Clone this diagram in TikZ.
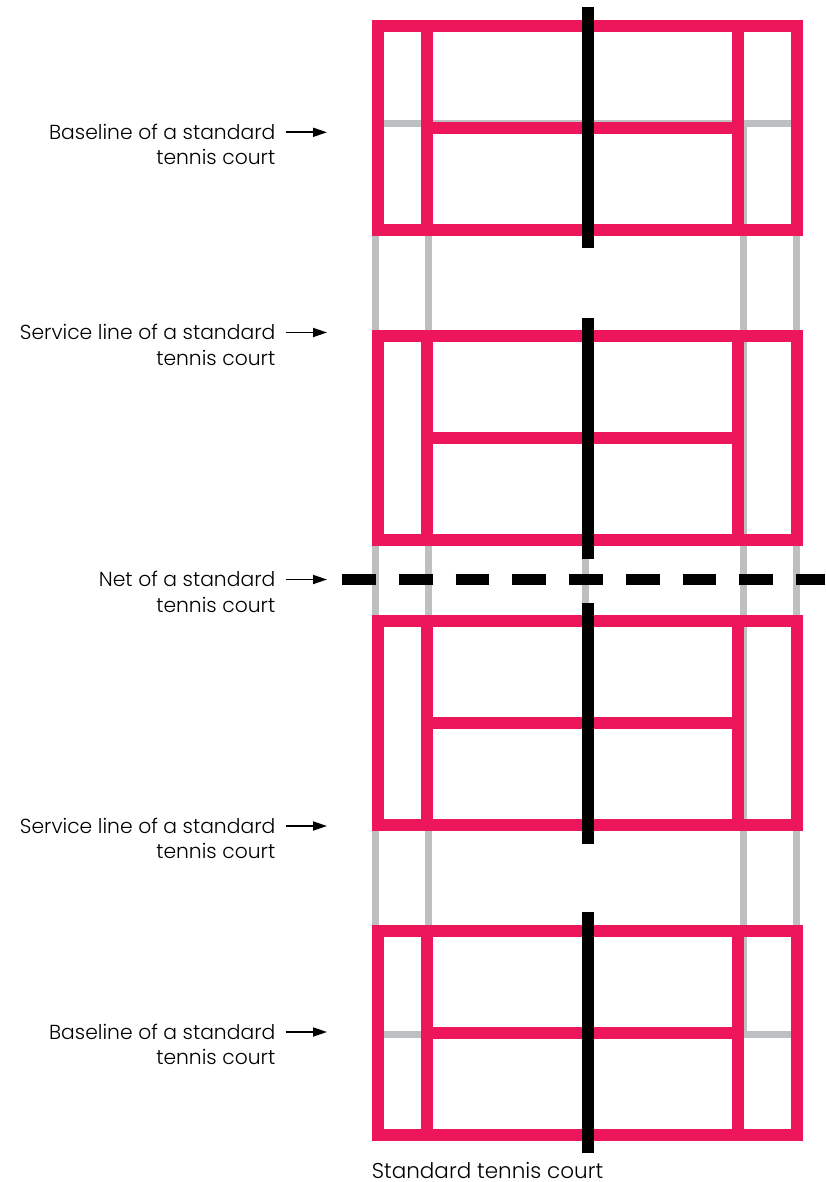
\documentclass[tikz,border=0pt]{standalone}
\usepackage{fontspec}
\setmainfont{Poppins}[UprightFont=* Light]
\usetikzlibrary{arrows.meta}
\definecolor{courtpink}{RGB}{237,22,90}
\definecolor{courtgray}{RGB}{190,191,193}

\begin{document}
\begin{tikzpicture}[x=1pt, y=-1pt,
   lbl/.style={anchor=base east, align=right, inner sep=0pt, font=\fontsize{20.3}{25.7}\selectfont},
   arr/.style={-{Triangle[length=14pt,width=9pt]}, line width=1.8pt},
   grayline/.style={courtgray, line width=7pt},
   pinkline/.style={courtpink, line width=11.7pt},
   midline/.style={black, line width=11.7pt},
   netline/.style={black, line width=11pt, dash pattern=on 33.7pt off 23pt}]
   \useasboundingbox (0,0) rectangle (825,1182);

   % the standard court underneath
   \draw[grayline] (375.5,124) rectangle (796,1034);
   \draw[grayline] (428,124) -- (428,1034);
   \draw[grayline] (743,124) -- (743,1034);
   \draw[grayline] (428,334) -- (743,334);
   \draw[grayline] (428,824) -- (743,824);
   \draw[grayline] (585.5,334) -- (585.5,824);

   % net
   \draw[netline] (342.3,579.5) -- (825,579.5);

   % small courts
   \foreach \t in {25.8,336.2,621,930.8} {
      \draw[pinkline] (378.2,\t) rectangle (796.7,\t+204);
      \draw[pinkline] (426.7,\t) -- (426.7,\t+204);
      \draw[pinkline] (738.3,\t) -- (738.3,\t+204);
      \draw[pinkline] (426.7,\t+102) -- (738.3,\t+102);
      \draw[midline] (588.2,\t-18.5) -- (588.2,\t+222.5);
   }

   % labels (base = second line)
   \node[lbl] (base1) at (275.5,165) {Baseline of a standard\\tennis court};
   \coordinate (base1tip) at (327,132.3);
   \draw[arr] (base1tip -| base1.east) ++(10,0) -- (base1tip);

   \node[lbl] (serv1) at (275.5,365.2) {Service line of a standard\\tennis court};
   \coordinate (serv1tip) at (327,332.5);
   \draw[arr] (serv1tip -| serv1.east) ++(10,0) -- (serv1tip);

   \node[lbl] (net) at (275.5,612.2) {Net of a standard\\tennis court};
   \coordinate (nettip) at (327,579.5);
   \draw[arr] (nettip -| net.east) ++(10,0) -- (nettip);

   \node[lbl] (serv2) at (275.5,858.7) {Service line of a standard\\tennis court};
   \coordinate (serv2tip) at (327,826);
   \draw[arr] (serv2tip -| serv2.east) ++(10,0) -- (serv2tip);

   \node[lbl] (base2) at (275.5,1064.7) {Baseline of a standard\\tennis court};
   \coordinate (base2tip) at (327,1032);
   \draw[arr] (base2tip -| base2.east) ++(10,0) -- (base2tip);

   \node[anchor=base west, inner sep=0pt, text depth=0pt, font=\fontsize{21.5}{26}\selectfont] (title) at (371.7,1178.5) {Standard tennis court};
\end{tikzpicture}
\end{document}
